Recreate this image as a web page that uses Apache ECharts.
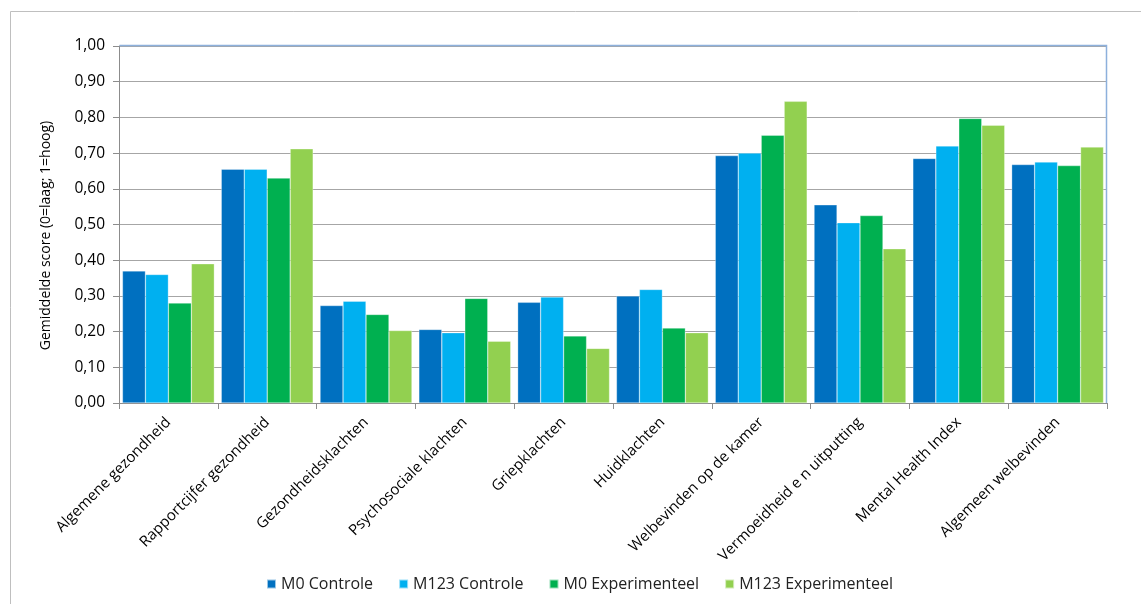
<!DOCTYPE html>
<html><head><meta charset="utf-8">
<script src="https://cdn.jsdelivr.net/npm/echarts@6/dist/echarts.min.js"></script>
<style>html,body{margin:0;padding:0;background:#fff}#c{width:1141px;height:604px}</style>
</head><body><div id="c"></div>
<script>
const categories = ["Algemene gezondheid","Rapportcijfer gezondheid","Gezondheidsklachten","Psychosociale klachten","Griepklachten","Huidklachten","Welbevinden op de kamer","Vermoeidheid e n uitputting","Mental Health Index","Algemeen welbevinden"];
const m0Controle = [0.370,0.655,0.273,0.206,0.282,0.300,0.693,0.555,0.685,0.668];
const m123Controle = [0.360,0.655,0.285,0.197,0.297,0.318,0.700,0.505,0.720,0.675];
const m0Experimenteel = [0.280,0.630,0.248,0.293,0.188,0.210,0.750,0.525,0.797,0.665];
const m123Experimenteel = [0.390,0.712,0.203,0.173,0.153,0.197,0.845,0.432,0.778,0.717];
const seriesNames = ["M0 Controle","M123 Controle","M0 Experimenteel","M123 Experimenteel"];
const colors = ["#0070C0","#00B0F0","#00B050","#92D050"];
const yTitle = "Gemiddelde score (0=laag; 1=hoog)";

const font = "Open Sans";
const chart = echarts.init(document.getElementById('c'), null, {renderer:'canvas'});
const data = [m0Controle, m123Controle, m0Experimenteel, m123Experimenteel];
chart.setOption({
  animation:false,
  textStyle:{fontFamily:font},
  graphic:[
    {type:'polyline',shape:{points:[[10.5,604],[10.5,11.5],[1141,11.5]]},style:{fill:'none',stroke:'#bfbfbf',lineWidth:1},silent:true},
    {type:'polyline',shape:{points:[[119.5,45.5],[1106.5,45.5],[1106.5,403]]},style:{fill:'none',stroke:'#8db0dc',lineWidth:1.5},silent:true,z:10},
    {type:'text',x:46,y:235.5,rotation:Math.PI/2,silent:true,
     style:{text:yTitle,fontFamily:font,fontSize:14,fill:'#000',align:'center',verticalAlign:'middle'}}],
  grid:{left:119,right:34,top:46,bottom:201,containLabel:false},
  legend:{top:571,left:261,itemWidth:9,itemHeight:9,itemGap:25,icon:'rect',
    textStyle:{fontFamily:font,fontSize:16,color:'#222'},data:seriesNames},
  xAxis:{type:'category',data:categories,
    axisLine:{lineStyle:{color:'#8c8c8c'}},
    axisTick:{show:true,interval:0,length:6,lineStyle:{color:'#8c8c8c'}},
    axisLabel:{rotate:45,interval:0,fontFamily:font,fontSize:15,color:'#000',margin:17}},
  yAxis:{type:'value',min:0,max:1,interval:0.1,
    axisLine:{show:true,lineStyle:{color:'#8c8c8c'}},
    axisTick:{show:true,length:6,inside:false,lineStyle:{color:'#8c8c8c'}},
    splitLine:{lineStyle:{color:'#a6a6a6',width:1}},
    axisLabel:{fontFamily:font,fontSize:15.5,color:'#000',margin:14,formatter:v=>v.toFixed(2).replace('.',',')}},
  series:data.map((d,i)=>({name:seriesNames[i],type:'bar',data:d,barGap:'0%',barCategoryGap:'7%',
    itemStyle:{color:colors[i],borderColor:'rgba(255,255,255,0.6)',borderWidth:0.5}}))
});
</script></body></html>
